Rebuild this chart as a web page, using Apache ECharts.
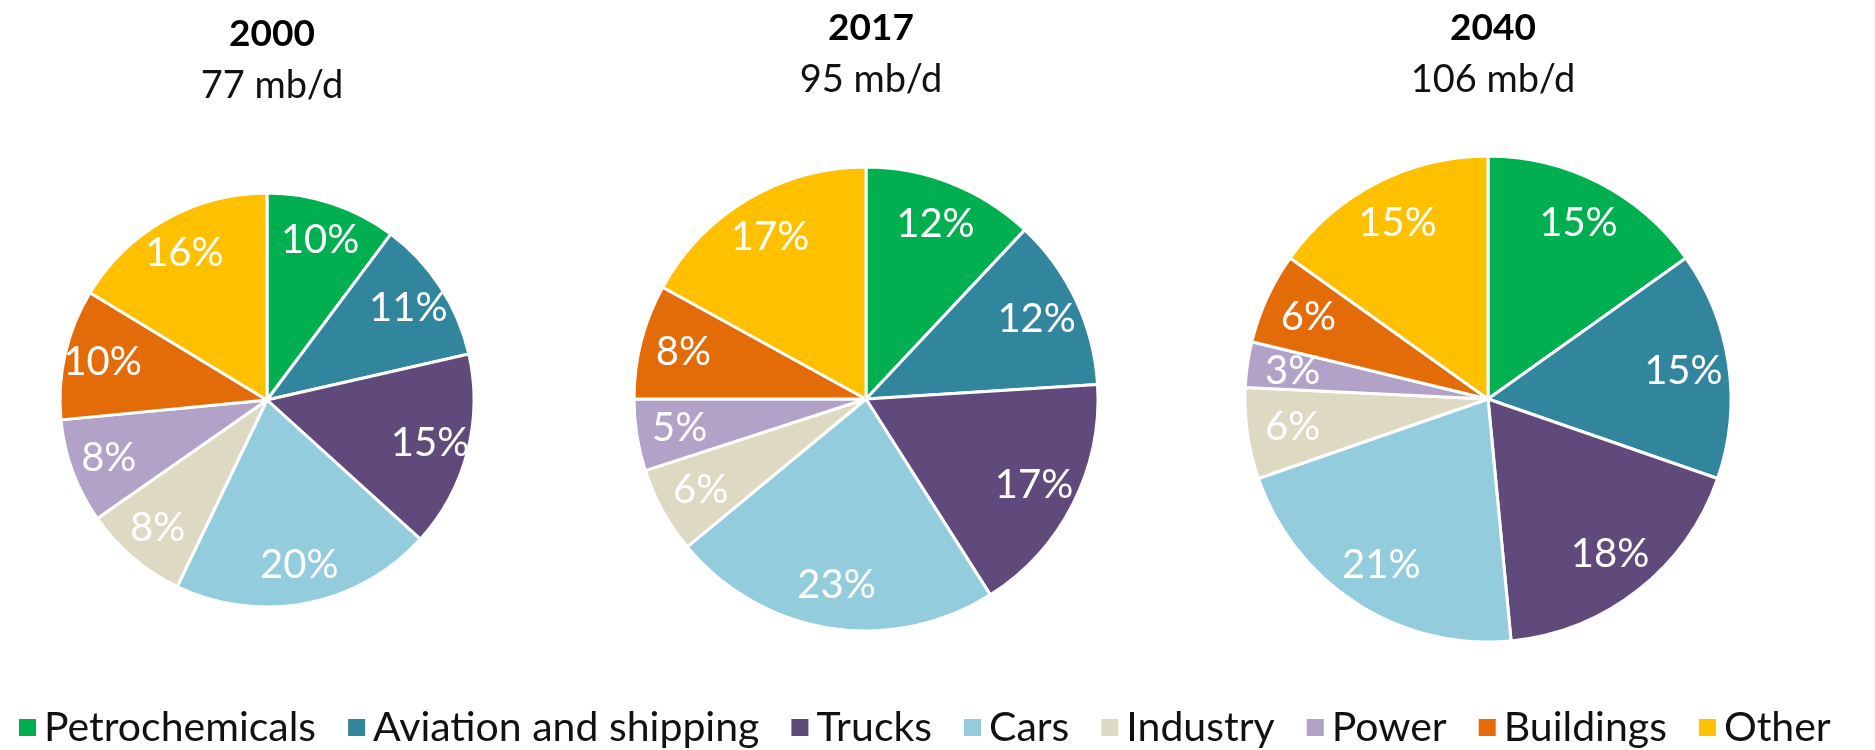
<!DOCTYPE html>
<html><head><meta charset="utf-8">
<script src="https://cdn.jsdelivr.net/npm/echarts@6/dist/echarts.min.js"></script>
<style>html,body{margin:0;padding:0;background:#fff}#c{width:1875px;height:750px}</style>
</head><body><div id="c"></div>
<script>
const categories = ['Petrochemicals', 'Aviation and shipping', 'Trucks', 'Cars', 'Industry', 'Power', 'Buildings', 'Other'];
const years = ['2000', '2017', '2040'];
const totals = ['77 mb/d', '95 mb/d', '106 mb/d'];
const share2000 = [10, 11, 15, 20, 8, 8, 10, 16];
const share2017 = [12, 12, 17, 23, 6, 5, 8, 17];
const share2040 = [15, 15, 18, 21, 6, 3, 6, 15];
const shares = [share2000, share2017, share2040];

const colors = ['#00B050', '#31859C', '#604A7B', '#93CDDD', '#DDD9C3', '#B3A2C7', '#E36C09', '#FFC000'];
const FONT = 'Lato';
const pies = [
  { cx: 267, cy: 400, r: 207, top: 6 },
  { cx: 866, cy: 399, r: 232, top: 0 },
  { cx: 1488, cy: 399, r: 243, top: 0 }
];

const titles = pies.map((p, i) => ({
  text: years[i],
  subtext: totals[i],
  left: p.cx,
  top: p.top,
  textAlign: 'center',
  itemGap: 6,
  textStyle: { fontFamily: FONT, fontWeight: 'bold', fontSize: 37, color: '#000', lineHeight: 46 },
  subtextStyle: { fontFamily: FONT, fontSize: 38, color: '#111', lineHeight: 46 }
}));

const series = [];
pies.forEach((p, i) => {
  const data = categories.map((n, k) => ({ name: n, value: shares[i][k] }));
  series.push({
    type: 'pie', center: [p.cx, p.cy], radius: [0, p.r],
    startAngle: 90, clockwise: true, animation: false, silent: true,
    color: colors,
    itemStyle: { borderColor: '#fff', borderWidth: 3 },
    label: { show: false }, labelLine: { show: false },
    data: data
  });
  series.push({
    type: 'pie', center: [p.cx, p.cy], radius: [p.r * 0.6, p.r],
    startAngle: 90, clockwise: true, animation: false, silent: true,
    color: colors,
    itemStyle: { color: 'rgba(0,0,0,0)', borderWidth: 0 },
    label: { show: true, position: 'inside', formatter: '{c}%', color: '#fff',
             fontFamily: FONT, fontSize: 40, textBorderWidth: 0 },
    labelLine: { show: false },
    legendHoverLink: false,
    data: data
  });
});

const chart = echarts.init(document.getElementById('c'));
chart.setOption({
  backgroundColor: '#fff',
  animation: false,
  color: colors,
  title: titles,
  legend: {
    data: categories,
    left: 12, top: 702,
    icon: 'rect', itemWidth: 19, itemHeight: 19, itemGap: 30,
    textStyle: { fontFamily: FONT, fontSize: 41, color: '#111', padding: [0, 0, 0, 2] },
    selectedMode: false
  },
  series: series
});
</script></body></html>
